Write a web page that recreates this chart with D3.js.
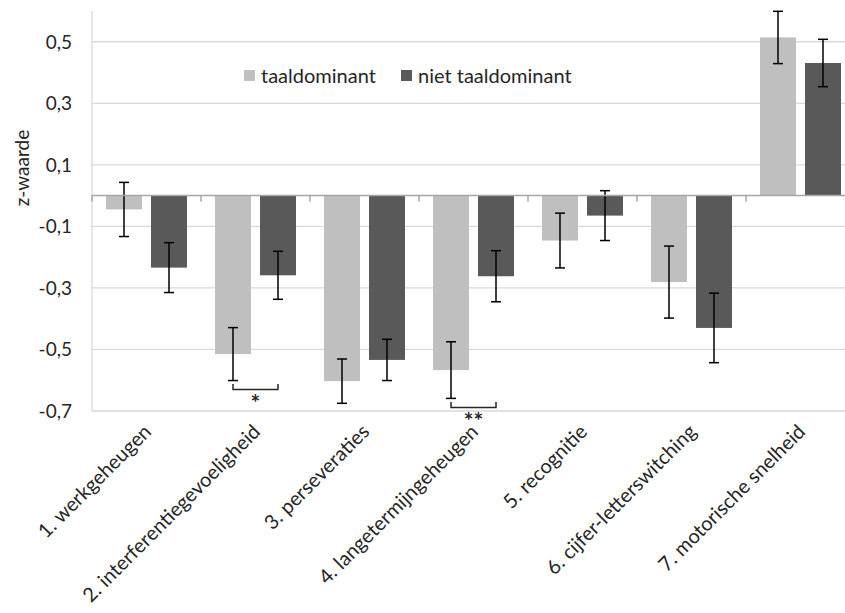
<!DOCTYPE html>
<html>
<head>
<meta charset="utf-8">
<script src="https://cdn.jsdelivr.net/npm/d3@7"></script>
<style>
  html, body { margin: 0; padding: 0; background: #fff; }
  svg { display: block; }
  text { font-family: Lato, "Noto Sans", sans-serif; fill: #262626; }
</style>
</head>
<body>
<svg id="chart" width="845" height="613"></svg>
<script>
// Cognitive test scores (z-values) per domain for two groups
const categories = [
  "1. werkgeheugen",
  "2. interferentiegevoeligheid",
  "3. perseveraties",
  "4. langetermijngeheugen",
  "5. recognitie",
  "6. cijfer-letterswitching",
  "7. motorische snelheid"
];
const seriesNames = ["taaldominant", "niet taaldominant"];
const taaldominant      = [-0.045, -0.515, -0.603, -0.567, -0.146, -0.281, 0.514];
const taaldominantErr   = [ 0.088,  0.086,  0.072,  0.092,  0.089,  0.117, 0.085];
const nietTaaldominant    = [-0.234, -0.259, -0.534, -0.262, -0.065, -0.430, 0.431];
const nietTaaldominantErr = [ 0.081,  0.078,  0.067,  0.083,  0.081,  0.113, 0.077];
const yTicks = [-0.7, -0.5, -0.3, -0.1, 0.1, 0.3, 0.5];
const significance = [
  { category: "2. interferentiegevoeligheid", label: "*" },
  { category: "4. langetermijngeheugen", label: "**" }
];

const colors = ["#BFBFBF", "#595959"];
const values = [taaldominant, nietTaaldominant];
const errors = [taaldominantErr, nietTaaldominantErr];

const svg = d3.select("#chart");
const plot = { left: 92, right: 855, top: 11, bottom: 411 };

const x0 = d3.scaleBand().domain(categories).range([plot.left, plot.right]).padding(0);
const x1 = d3.scaleBand().domain(seriesNames).range([0, x0.bandwidth()])
  .paddingInner(0.2).paddingOuter(0.311);
const y = d3.scaleLinear().domain([-0.7, 0.6]).range([plot.bottom, plot.top]);

const fmt = v => d3.format(".1f")(v).replace(".", ",").replace("−", "-");

// gridlines
svg.append("g")
  .selectAll("line").data(yTicks).join("line")
  .attr("x1", plot.left).attr("x2", plot.right)
  .attr("y1", d => y(d)).attr("y2", d => y(d))
  .attr("stroke", "#D9D9D9").attr("stroke-width", 1.3);

// vertical axis line
svg.append("line")
  .attr("x1", plot.left).attr("x2", plot.left)
  .attr("y1", plot.top).attr("y2", plot.bottom)
  .attr("stroke", "#D9D9D9").attr("stroke-width", 1.3);

// y tick labels
svg.append("g")
  .selectAll("text").data(yTicks).join("text")
  .attr("x", 72).attr("y", d => y(d))
  .attr("dy", "0.36em")
  .attr("text-anchor", "end")
  .style("font-size", "19px")
  .text(d => fmt(d));

// y axis title
svg.append("text")
  .attr("transform", "translate(29,168) rotate(-90)")
  .attr("text-anchor", "middle")
  .style("font-size", "19px")
  .text("z-waarde");

// bars
const rows = categories.map((c, i) => ({ c, i }));
const groups = svg.append("g").selectAll("g").data(rows).join("g")
  .attr("transform", d => `translate(${x0(d.c)},0)`);

groups.selectAll("rect")
  .data(d => seriesNames.map((s, k) => ({ s, k, v: values[k][d.i] })))
  .join("rect")
  .attr("x", d => x1(d.s))
  .attr("width", x1.bandwidth())
  .attr("y", d => y(Math.max(0, d.v)))
  .attr("height", d => Math.abs(y(d.v) - y(0)))
  .attr("fill", d => colors[d.k]);

// horizontal category axis at zero with tick marks between categories
svg.append("line")
  .attr("x1", plot.left).attr("x2", plot.right)
  .attr("y1", y(0)).attr("y2", y(0))
  .attr("stroke", "#A6A6A6").attr("stroke-width", 1.5);
svg.append("g")
  .selectAll("line").data(categories.map(c => x0(c)).concat([plot.right])).join("line")
  .attr("x1", d => d).attr("x2", d => d)
  .attr("y1", y(0)).attr("y2", y(0) + 6)
  .attr("stroke", "#A6A6A6").attr("stroke-width", 1.5);

// error bars
const errG = groups.selectAll("g.err")
  .data(d => seriesNames.map((s, k) => ({ s, k, v: values[k][d.i], e: errors[k][d.i] })))
  .join("g").attr("class", "err")
  .attr("stroke", "#000").attr("stroke-width", 1.5);
errG.append("line")
  .attr("x1", d => x1(d.s) + x1.bandwidth() / 2)
  .attr("x2", d => x1(d.s) + x1.bandwidth() / 2)
  .attr("y1", d => y(d.v + d.e)).attr("y2", d => y(d.v - d.e));
[1, -1].forEach(sign => {
  errG.append("line")
    .attr("x1", d => x1(d.s) + x1.bandwidth() / 2 - 5)
    .attr("x2", d => x1(d.s) + x1.bandwidth() / 2 + 5)
    .attr("y1", d => y(d.v + sign * d.e)).attr("y2", d => y(d.v + sign * d.e));
});

// significance brackets
significance.forEach(sig => {
  const i = categories.indexOf(sig.category);
  const lowest = Math.min(taaldominant[i] - taaldominantErr[i], nietTaaldominant[i] - nietTaaldominantErr[i]);
  const top = y(lowest) + 3.5;
  const xa = x0(sig.category) + x1(seriesNames[0]) + x1.bandwidth() / 2;
  const xb = x0(sig.category) + x1(seriesNames[1]) + x1.bandwidth() / 2;
  svg.append("path")
    .attr("d", `M${xa},${top}V${top + 5.5}H${xb}V${top}`)
    .attr("fill", "none").attr("stroke", "#262626").attr("stroke-width", 1.5);
  svg.append("text")
    .attr("x", (xa + xb) / 2).attr("y", top + 27)
    .attr("text-anchor", "middle")
    .style("font-size", "23px").style("font-weight", "bold")
    .text(sig.label);
});

// category labels, rotated
svg.append("g")
  .selectAll("text").data(categories).join("text")
  .attr("transform", d => `translate(${x0(d) + x0.bandwidth() / 2 + 6},${plot.bottom + 22}) rotate(-45)`)
  .attr("text-anchor", "end")
  .style("font-size", "20px")
  .text(d => d);

// legend
const legend = svg.append("g");
const legendX = [244, 401];
seriesNames.forEach((s, k) => {
  legend.append("rect")
    .attr("x", legendX[k]).attr("y", 70).attr("width", 11).attr("height", 11)
    .attr("fill", colors[k]);
  legend.append("text")
    .attr("x", legendX[k] + 17).attr("y", 76).attr("dy", "0.36em")
    .style("font-size", "20px")
    .text(s);
});
</script>
</body>
</html>
